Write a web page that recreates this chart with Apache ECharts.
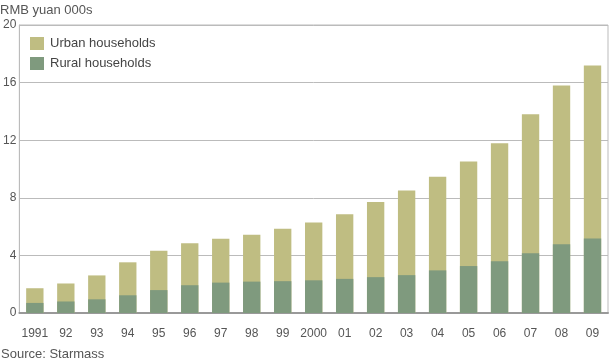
<!DOCTYPE html>
<html>
<head>
<meta charset="utf-8">
<script src="https://cdn.jsdelivr.net/npm/echarts@6/dist/echarts.min.js"></script>
<style>
html,body{margin:0;padding:0;background:#fff;}
#c{width:609px;height:362px;}
</style>
</head>
<body>
<div id="c"></div>
<script>
const categories = ['1991','92','93','94','95','96','97','98','99','2000','01','02','03','04','05','06','07','08','09'];
const urban = [1.72, 2.05, 2.61, 3.52, 4.33, 4.85, 5.16, 5.43, 5.85, 6.28, 6.86, 7.70, 8.50, 9.46, 10.52, 11.78, 13.80, 15.80, 17.18];
const rural = [0.70, 0.80, 0.95, 1.23, 1.59, 1.93, 2.11, 2.18, 2.21, 2.27, 2.37, 2.49, 2.63, 2.96, 3.26, 3.60, 4.15, 4.77, 5.18];
const yTicks = [0, 4, 8, 12, 16, 20];

const chart = echarts.init(document.getElementById('c'), null, {renderer: 'canvas'});
const font = 'Liberation Sans, Arial, Helvetica, sans-serif';
chart.setOption({
  animation: false,
  textStyle: {fontFamily: font},
  title: [
    {text: 'RMB yuan 000s', left: -5, top: -1, textStyle: {fontSize: 13, fontWeight: 'normal', color: '#555', fontFamily: font}},
    {text: 'Source: Starmass', left: -4, top: 343, textStyle: {fontSize: 13, fontWeight: 'normal', color: '#555', fontFamily: font}}
  ],
  legend: {
    orient: 'vertical', left: 25, top: 32,
    itemWidth: 14, itemHeight: 13, itemGap: 7,
    icon: 'rect',
    textStyle: {fontSize: 13, color: '#444', fontFamily: font, padding: [0,0,0,1]},
    data: ['Urban households', 'Rural households']
  },
  grid: {left: 17, right: 1, top: 25, bottom: 49, show: true, borderColor: '#bbb', borderWidth: 1, containLabel: false},
  xAxis: {
    type: 'category', data: categories,
    axisLine: {lineStyle: {color: '#999', width: 2}},
    axisTick: {show: false},
    axisLabel: {color: '#555', fontSize: 12, margin: 15, interval: 0, fontFamily: font}
  },
  yAxis: {
    type: 'value', min: 0, max: 20, interval: 4,
    axisLine: {show: true, lineStyle: {color: '#bbb'}},
    axisTick: {show: false},
    splitLine: {lineStyle: {color: '#bbb'}},
    axisLabel: {color: '#555', fontSize: 12, margin: 3, fontFamily: font,
      formatter: v => yTicks.includes(v) ? String(v) : ''}
  },
  series: [
    {name: 'Urban households', type: 'bar', data: urban, barWidth: '56%', barGap: '-100%', itemStyle: {color: '#bfbd82'}},
    {name: 'Rural households', type: 'bar', data: rural, barWidth: '56%', itemStyle: {color: '#7f9a7e'}}
  ]
});
</script>
</body>
</html>
